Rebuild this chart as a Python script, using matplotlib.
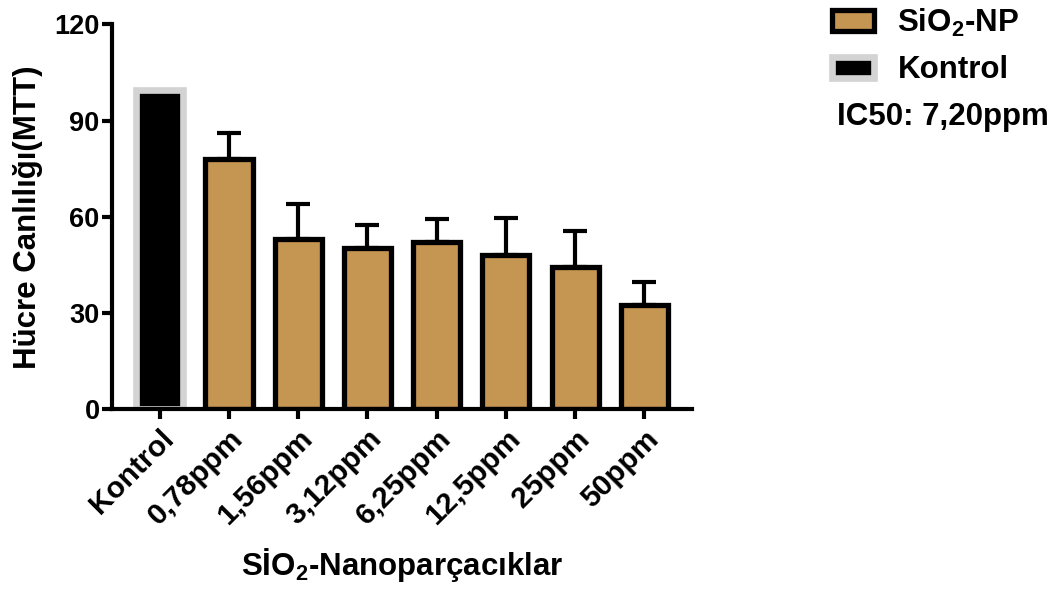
import numpy as np
import matplotlib.pyplot as plt
from matplotlib.patches import Patch

plt.rcParams['font.family'] = ['Liberation Sans', 'DejaVu Sans']
plt.rcParams['font.weight'] = 'bold'
plt.rcParams['mathtext.fontset'] = 'custom'
plt.rcParams['mathtext.rm'] = 'Liberation Sans:bold'
plt.rcParams['mathtext.bf'] = 'Liberation Sans:bold'
plt.rcParams['mathtext.it'] = 'Liberation Sans:bold'

# data
categories = ['Kontrol', '0,78ppm', '1,56ppm', '3,12ppm', '6,25ppm', '12,5ppm', '25ppm', '50ppm']
kontrol_value = 99.5
np_values = [78, 53, 50.3, 52, 48, 44.2, 32.5]
np_errors = [8, 11, 7, 7.3, 11.5, 11.3, 7.2]
yticks = [0, 30, 60, 90, 120]

tan = '#C59552'
grey = '#D3D3D3'

fig = plt.figure(figsize=(10.6, 5.9), dpi=100)
ax = fig.add_axes([0.1057, 0.3063, 0.5472, 0.6525])

x = np.arange(len(categories))
w = 0.68

k = ax.bar(x[0], kontrol_value, width=w, color='black', edgecolor=grey, linewidth=4.8, zorder=2)
b = ax.bar(x[1:], np_values, width=w, color=tan, edgecolor='black', linewidth=3.8, zorder=2)
ax.errorbar(x[1:], np_values, yerr=[np.zeros(len(np_errors)), np_errors], fmt='none',
            ecolor='black', elinewidth=3, capsize=8.5, capthick=3, zorder=1.5)

ax.set_xlim(-0.69, 7.69)
ax.set_ylim(0, 120)
ax.set_yticks(yticks)
ax.set_xticks(x)
ax.set_xticklabels(categories, rotation=45, ha='right', rotation_mode='anchor', fontsize=21.5)
ax.tick_params(axis='y', labelsize=19.5, width=3, length=7, pad=2)
ax.tick_params(axis='x', width=3, length=7, pad=4)

for s in ['top', 'right']:
    ax.spines[s].set_visible(False)
for s in ['left', 'bottom']:
    ax.spines[s].set_linewidth(3)
    ax.spines[s].set_zorder(3)

ax.set_ylabel('Hücre Canlılığı(MTT)', fontsize=22.5, fontweight='bold', labelpad=8)
ax.set_xlabel('S\u0130O$_2$-Nanoparçacıklar', fontsize=22.5, fontweight='bold', labelpad=11)

handles = [Patch(facecolor=tan, edgecolor='black', linewidth=3.8),
           Patch(facecolor='black', edgecolor=grey, linewidth=4.8)]
fig.legend(handles, ['SiO$_2$-NP', 'Kontrol'], loc='upper left',
           bbox_to_anchor=(0.770, 1.015), frameon=False, fontsize=22.5, borderpad=0,
           handlelength=1.35, handleheight=0.65, handletextpad=0.75, labelspacing=0.53)
fig.text(0.79, 0.788, 'IC50: 7,20ppm', fontsize=22.5, fontweight='bold', va='baseline')

fig.savefig('out.png', dpi=100)
